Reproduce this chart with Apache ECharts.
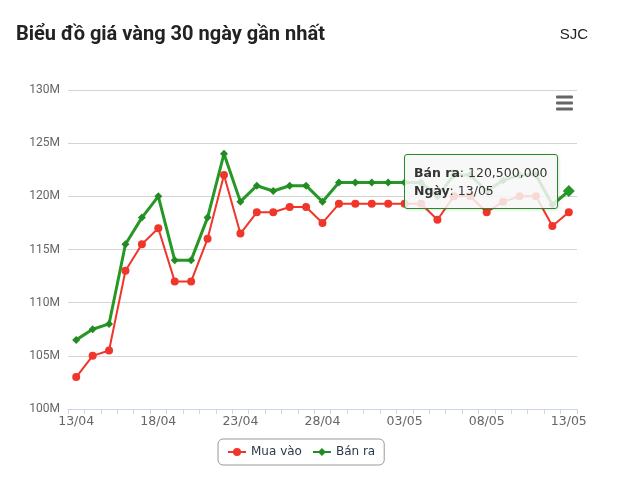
<!DOCTYPE html>
<html>
<head>
<meta charset="utf-8">
<script src="https://cdn.jsdelivr.net/npm/echarts@6/dist/echarts.min.js"></script>
<style>
html,body{margin:0;padding:0;background:#fff;}
#chart{width:621px;height:490px;}
</style>
</head>
<body>
<div id="chart"></div>
<script>
// Dates (category axis)
const dates = ['13/04','14/04','15/04','16/04','17/04','18/04','19/04','20/04','21/04','22/04',
  '23/04','24/04','25/04','26/04','27/04','28/04','29/04','30/04','01/05','02/05',
  '03/05','04/05','05/05','06/05','07/05','08/05','09/05','10/05','11/05','12/05','13/05'];
// Mua vào (million VND)
const buyPrices = [103, 105, 105.5, 113, 115.5, 117, 112, 112, 116, 122,
  116.5, 118.5, 118.5, 119, 119, 117.5, 119.3, 119.3, 119.3, 119.3,
  119.3, 119.3, 117.8, 120, 120, 118.5, 119.5, 120, 120, 117.2, 118.5];
// Bán ra (million VND)
const sellPrices = [106.5, 107.5, 108, 115.5, 118, 120, 114, 114, 118, 124,
  119.5, 121, 120.5, 121, 121, 119.5, 121.3, 121.3, 121.3, 121.3,
  121.3, 121.3, 120, 122, 122, 120.5, 121.5, 122, 122, 119.2, 120.5];
// Y axis
const yMin = 100, yMax = 130, yStep = 5;
const seriesNames = ['Mua vào', 'Bán ra'];
const colors = ['#f0352b', '#238b23'];
const titleText = 'Biểu đồ giá vàng 30 ngày gần nhất';
const brandText = 'SJC';
const hoverIndex = 30;

const chart = echarts.init(document.getElementById('chart'), null, {renderer: 'canvas'});

const option = {
  animation: false,
  backgroundColor: '#fff',
  title: {
    text: titleText,
    left: 11,
    top: 20,
    textStyle: {fontFamily: 'Roboto', fontWeight: 'bold', fontSize: 20, color: '#222'}
  },
  graphic: [
    {type: 'text', right: 33, top: 27, style: {text: brandText, font: '15px "Liberation Sans", Arial', fill: '#222'}},
    {type: 'rect', shape: {x: 556, y: 95.5, width: 17, height: 3, r: 1}, style: {fill: '#666'}},
    {type: 'rect', shape: {x: 556, y: 101.5, width: 17, height: 3, r: 1}, style: {fill: '#666'}},
    {type: 'rect', shape: {x: 556, y: 107.5, width: 17, height: 3, r: 1}, style: {fill: '#666'}}
  ],
  grid: {left: 68, right: 44, top: 90, bottom: 81, containLabel: false},
  legend: {
    data: seriesNames,
    left: 218,
    top: 439,
    padding: [7, 9],
    itemGap: 10,
    itemWidth: 18,
    itemHeight: 10,
    borderColor: '#999',
    borderWidth: 1,
    borderRadius: 5,
    textStyle: {fontFamily: 'DejaVu Sans', fontSize: 12, color: '#2b3a4a'}
  },
  tooltip: {
    trigger: 'item',
    alwaysShowContent: true,
    transitionDuration: 0,
    backgroundColor: 'rgba(247,247,247,0.85)',
    borderColor: colors[1],
    borderWidth: 1,
    borderRadius: 3,
    padding: [9, 9, 8, 9],
    textStyle: {fontFamily: 'DejaVu Sans', fontSize: 12.5, color: '#333'},
    extraCssText: 'line-height:18px;box-shadow:1px 1px 3px rgba(0,0,0,0.12);',
    position: function () { return [404, 154]; },
    formatter: function (p) {
      const v = Math.round(p.value * 1e6).toLocaleString('en-US');
      return '<b>' + p.seriesName + '</b>: ' + v + '<br/><b>Ngày</b>: ' + p.name;
    }
  },
  xAxis: {
    type: 'category',
    data: dates,
    boundaryGap: true,
    axisLine: {lineStyle: {color: '#ccd6eb', width: 1}},
    axisTick: {show: true, interval: 0, alignWithLabel: false, length: 5, lineStyle: {color: '#ccd6eb'}},
    axisLabel: {interval: 4, margin: 6, color: '#666', fontFamily: 'DejaVu Sans', fontSize: 12.5},
    splitLine: {show: false}
  },
  yAxis: {
    type: 'value',
    min: yMin,
    max: yMax,
    interval: yStep,
    axisLine: {show: false},
    axisTick: {show: false},
    axisLabel: {margin: 8, color: '#666', fontFamily: 'Roboto', fontSize: 12, formatter: function (v) { return v + 'M'; }},
    splitLine: {lineStyle: {color: '#d4d4d4', width: 1}}
  },
  series: [
    {
      name: seriesNames[0],
      type: 'line',
      data: buyPrices,
      color: colors[0],
      symbol: 'circle',
      symbolSize: 8,
      lineStyle: {width: 2, color: colors[0]},
      itemStyle: {color: colors[0]},
      emphasis: {focus: 'none', scale: 1.4, lineStyle: {width: 2}}
    },
    {
      name: seriesNames[1],
      type: 'line',
      data: sellPrices,
      color: colors[1],
      symbol: 'diamond',
      symbolSize: 8,
      lineStyle: {width: 3, color: colors[1]},
      itemStyle: {color: colors[1]},
      emphasis: {focus: 'none', scale: 1.5, lineStyle: {width: 3}}
    }
  ]
};

chart.setOption(option);
chart.dispatchAction({type: 'highlight', seriesIndex: 1, dataIndex: hoverIndex});
chart.dispatchAction({type: 'showTip', seriesIndex: 1, dataIndex: hoverIndex});
</script>
</body>
</html>
